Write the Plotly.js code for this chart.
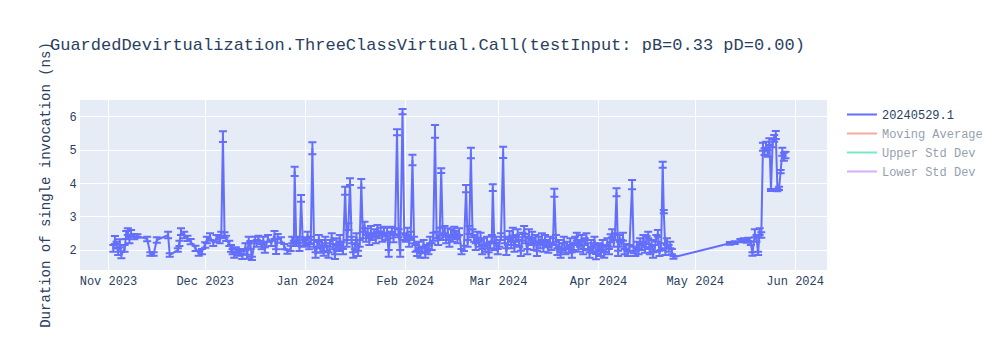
<!DOCTYPE html>
<html>
<head>
<meta charset="utf-8">
<script src="https://cdn.plot.ly/plotly-3.0.1.min.js"></script>
<style>html,body{margin:0;padding:0;background:#fff;}#chart{width:1000px;height:350px;}</style>
</head>
<body>
<div id="chart"></div>
<script>
const chartTitle = "GuardedDevirtualization.ThreeClassVirtual.Call(testInput: pB=0.33 pD=0.00)";
const yTitle = "Duration of single invocation (ns)";
const seriesNames = ["20240529.1", "Moving Average", "Upper Std Dev", "Lower Std Dev"];

const dates = [
"2023-11-02 12:00","2023-11-03 00:00","2023-11-03 12:00","2023-11-04 00:00","2023-11-04 12:00","2023-11-05 00:00","2023-11-06 00:00","2023-11-06 12:00","2023-11-07 00:00","2023-11-07 12:00",
"2023-11-08 00:00","2023-11-09 00:00","2023-11-10 00:00","2023-11-13 00:00","2023-11-14 00:00","2023-11-15 00:00","2023-11-16 00:00","2023-11-19 12:00","2023-11-20 00:00","2023-11-22 12:00",
"2023-11-23 00:00","2023-11-23 12:00","2023-11-24 12:00","2023-11-25 12:00","2023-11-26 12:00","2023-11-28 00:00","2023-11-29 00:00","2023-11-30 00:00",
"2023-12-01 00:00","2023-12-01 12:00","2023-12-02 12:00","2023-12-03 12:00","2023-12-04 12:00","2023-12-05 12:00","2023-12-06 00:00","2023-12-06 12:00","2023-12-07 00:00","2023-12-07 12:00",
"2023-12-08 12:00","2023-12-09 00:00","2023-12-09 12:00","2023-12-10 00:00","2023-12-10 12:00","2023-12-11 12:00","2023-12-12 00:00","2023-12-12 12:00","2023-12-13 12:00","2023-12-14 00:00",
"2023-12-14 12:00","2023-12-15 00:00","2023-12-15 12:00","2023-12-16 12:00","2023-12-17 00:00","2023-12-17 12:00","2023-12-18 12:00","2023-12-19 00:00","2023-12-19 12:00","2023-12-20 12:00",
"2023-12-21 12:00","2023-12-22 12:00","2023-12-23 00:00","2023-12-23 12:00","2023-12-24 12:00","2023-12-25 12:00","2023-12-26 12:00","2023-12-27 12:00","2023-12-28 00:00","2023-12-28 12:00",
"2023-12-28 18:00","2023-12-29 06:00","2023-12-29 18:00","2023-12-30 06:00","2023-12-30 18:00","2023-12-31 06:00","2023-12-31 18:00",
"2024-01-01 06:00","2024-01-01 18:00","2024-01-02 06:00","2024-01-02 18:00","2024-01-03 06:00","2024-01-03 18:00","2024-01-04 06:00","2024-01-04 18:00","2024-01-05 06:00","2024-01-05 18:00",
"2024-01-06 06:00","2024-01-06 18:00","2024-01-07 06:00","2024-01-07 18:00","2024-01-08 06:00","2024-01-08 18:00","2024-01-09 06:00","2024-01-09 18:00","2024-01-10 06:00","2024-01-10 18:00",
"2024-01-11 06:00","2024-01-11 18:00","2024-01-12 06:00","2024-01-12 18:00","2024-01-13 10:00","2024-01-13 22:00","2024-01-14 10:00","2024-01-14 22:00","2024-01-15 10:00","2024-01-15 22:00",
"2024-01-16 10:00","2024-01-16 22:00","2024-01-17 10:00","2024-01-17 22:00","2024-01-18 10:00","2024-01-18 22:00","2024-01-19 10:00","2024-01-19 22:00","2024-01-20 10:00","2024-01-20 22:00",
"2024-01-21 10:00","2024-01-21 22:00","2024-01-22 10:00","2024-01-22 22:00","2024-01-23 10:00","2024-01-23 22:00","2024-01-24 10:00","2024-01-24 22:00","2024-01-25 10:00","2024-01-25 22:00",
"2024-01-26 10:00","2024-01-26 22:00","2024-01-27 10:00","2024-01-27 22:00","2024-01-28 10:00","2024-01-28 22:00","2024-01-29 12:00","2024-01-30 00:00","2024-01-30 12:00","2024-01-31 05:00",
"2024-01-31 18:00",
"2024-02-01 06:00","2024-02-01 18:00","2024-02-02 06:00","2024-02-02 18:00","2024-02-03 07:00","2024-02-03 19:00","2024-02-04 06:00","2024-02-04 18:00","2024-02-05 06:00","2024-02-05 18:00",
"2024-02-06 06:00","2024-02-06 18:00","2024-02-07 06:00","2024-02-07 18:00","2024-02-08 06:00","2024-02-08 18:00","2024-02-09 06:00","2024-02-09 18:00","2024-02-10 07:00","2024-02-10 19:00",
"2024-02-11 06:00","2024-02-11 18:00","2024-02-12 05:00","2024-02-12 17:00","2024-02-13 06:00","2024-02-13 18:00","2024-02-14 06:00","2024-02-14 18:00","2024-02-15 06:00","2024-02-15 18:00",
"2024-02-16 06:00","2024-02-16 18:00","2024-02-17 06:00","2024-02-17 18:00","2024-02-18 12:00","2024-02-19 06:00","2024-02-19 22:00","2024-02-20 10:00","2024-02-20 22:00","2024-02-21 10:00",
"2024-02-21 22:00","2024-02-22 10:00","2024-02-22 22:00","2024-02-23 10:00","2024-02-23 22:00","2024-02-24 10:00","2024-02-24 22:00","2024-02-25 10:00","2024-02-25 22:00","2024-02-26 10:00",
"2024-02-26 22:00","2024-02-27 10:00","2024-02-27 22:00","2024-02-28 05:00","2024-02-28 17:00","2024-02-29 06:00","2024-02-29 18:00",
"2024-03-01 06:00","2024-03-01 18:00","2024-03-02 10:00","2024-03-02 22:00","2024-03-03 10:00","2024-03-03 22:00","2024-03-04 10:00","2024-03-04 22:00","2024-03-05 10:00","2024-03-05 22:00",
"2024-03-06 10:00","2024-03-06 22:00","2024-03-07 10:00","2024-03-07 22:00","2024-03-08 10:00","2024-03-08 22:00","2024-03-09 10:00","2024-03-09 22:00","2024-03-10 10:00","2024-03-10 22:00",
"2024-03-11 10:00","2024-03-11 22:00","2024-03-12 10:00","2024-03-12 22:00","2024-03-13 10:00","2024-03-13 22:00","2024-03-14 10:00","2024-03-14 22:00","2024-03-15 10:00","2024-03-15 22:00",
"2024-03-16 10:00","2024-03-16 22:00","2024-03-17 10:00","2024-03-17 22:00","2024-03-18 07:00","2024-03-18 19:00","2024-03-19 06:00","2024-03-19 18:00","2024-03-20 06:00","2024-03-20 18:00",
"2024-03-21 06:00","2024-03-21 18:00","2024-03-22 06:00","2024-03-22 18:00","2024-03-23 06:00","2024-03-23 18:00","2024-03-24 06:00","2024-03-24 18:00","2024-03-25 06:00","2024-03-25 18:00",
"2024-03-26 06:00","2024-03-26 18:00","2024-03-27 06:00","2024-03-27 18:00","2024-03-28 06:00","2024-03-28 18:00","2024-03-29 06:00","2024-03-29 18:00","2024-03-30 06:00","2024-03-30 18:00",
"2024-03-31 06:00","2024-03-31 18:00",
"2024-04-01 06:00","2024-04-01 18:00","2024-04-02 06:00","2024-04-02 18:00","2024-04-03 06:00","2024-04-03 18:00","2024-04-04 06:00","2024-04-04 18:00","2024-04-05 06:00","2024-04-05 18:00",
"2024-04-06 02:00","2024-04-06 14:00","2024-04-07 02:00","2024-04-07 14:00","2024-04-08 02:00","2024-04-08 14:00","2024-04-09 02:00","2024-04-09 14:00","2024-04-10 02:00","2024-04-10 14:00",
"2024-04-11 10:00","2024-04-11 22:00","2024-04-12 10:00","2024-04-12 22:00","2024-04-13 10:00","2024-04-13 22:00","2024-04-14 10:00","2024-04-14 22:00","2024-04-15 10:00","2024-04-15 22:00",
"2024-04-16 10:00","2024-04-16 22:00","2024-04-17 10:00","2024-04-17 22:00","2024-04-18 10:00","2024-04-18 22:00","2024-04-19 10:00","2024-04-19 22:00","2024-04-20 10:00","2024-04-20 22:00",
"2024-04-21 06:00","2024-04-21 18:00","2024-04-22 06:00","2024-04-22 18:00","2024-04-23 06:00","2024-04-23 18:00","2024-04-24 06:00",
"2024-05-11 18:00","2024-05-13 06:00","2024-05-15 00:00","2024-05-16 00:00","2024-05-17 00:00","2024-05-17 12:00","2024-05-18 06:00","2024-05-18 18:00","2024-05-19 12:00","2024-05-20 00:00",
"2024-05-20 12:00","2024-05-21 00:00","2024-05-21 12:00","2024-05-22 00:00","2024-05-22 12:00","2024-05-23 00:00","2024-05-23 12:00","2024-05-24 00:00","2024-05-24 12:00","2024-05-25 00:00",
"2024-05-25 12:00","2024-05-26 00:00","2024-05-26 12:00","2024-05-27 00:00","2024-05-27 12:00","2024-05-28 00:00","2024-05-28 12:00","2024-05-29 00:00"
];

const durations = [
2.05,2.30,2.15,1.95,2.20,1.85,2.05,2.45,2.55,2.30,
2.50,2.40,2.42,2.33,1.88,1.88,2.30,2.45,1.85,2.00,
2.20,2.55,2.45,2.35,2.25,2.05,1.90,1.95,
2.15,2.30,2.40,2.20,2.35,2.30,2.45,5.40,2.45,2.35,
2.20,2.05,1.95,1.85,2.00,1.90,1.95,1.80,2.10,1.80,
2.30,2.15,1.75,2.30,2.20,2.35,2.10,2.30,2.00,2.35,
2.20,2.45,1.95,2.40,2.30,2.10,1.95,2.05,2.30,2.20,
4.36,2.20,2.30,2.05,3.55,2.30,2.20,
2.25,2.45,2.10,2.30,5.05,2.20,1.85,2.15,2.35,2.00,
2.20,1.90,2.30,2.05,1.85,2.20,2.40,2.10,1.80,2.25,
2.05,2.35,2.15,1.95,3.78,2.20,2.70,4.05,2.30,1.85,
2.10,2.40,1.90,2.20,4.00,2.45,2.75,2.35,2.55,2.25,
2.60,2.40,2.50,2.30,2.65,2.45,2.55,2.35,2.60,2.40,
2.55,1.90,2.45,2.60,2.35,2.55,5.53,2.50,1.90,6.15,
2.40,
2.35,2.55,2.20,2.45,4.70,2.30,2.05,1.90,2.15,1.85,
2.00,2.20,1.85,2.05,1.95,2.30,2.10,2.40,5.56,2.45,
2.25,2.55,4.38,2.40,2.60,2.30,2.55,2.20,2.50,2.35,
2.60,2.45,2.30,2.55,1.95,2.05,3.84,2.20,2.60,4.91,
2.50,2.35,2.10,2.45,2.20,2.40,1.95,2.25,2.05,2.30,
1.85,2.15,2.35,3.87,2.10,2.30,1.95,
2.20,2.40,4.93,2.30,1.95,2.25,2.45,2.15,2.55,2.05,
2.35,2.50,2.20,1.90,2.40,2.60,2.30,1.95,2.50,2.25,
2.45,2.10,2.35,1.90,2.30,2.15,2.40,2.05,2.35,2.20,
2.00,2.30,2.10,2.25,3.72,2.35,1.95,2.20,1.85,2.10,
2.30,1.95,2.15,2.00,2.25,1.85,2.10,2.30,2.40,2.05,
2.20,2.35,1.95,2.25,2.40,2.10,1.85,2.20,2.00,2.30,
1.80,2.05,
2.10,1.90,2.20,1.85,2.05,2.25,1.95,2.35,2.50,2.20,
2.40,3.73,1.90,2.35,2.20,2.40,1.95,2.10,1.90,2.05,
3.96,2.00,1.90,2.15,1.95,2.25,2.10,2.35,2.00,2.30,
2.45,1.95,2.20,1.85,2.05,2.35,2.50,1.90,2.10,4.56,
3.15,1.95,2.25,2.05,2.15,1.95,1.78,
2.20,2.22,2.28,2.30,2.27,2.32,2.20,1.88,2.50,2.35,
1.90,2.55,2.45,5.10,4.95,5.15,4.90,5.25,3.80,5.20,
5.35,5.45,3.80,3.85,4.35,4.95,4.80,4.85
];

const errors = [
0.10,0.12,0.10,0.10,0.12,0.10,0.10,0.12,0.10,0.10,
0.10,0.08,0.05,0.07,0.05,0.05,0.08,0.10,0.05,0.05,
0.08,0.10,0.10,0.08,0.08,0.08,0.07,0.08,
0.08,0.10,0.10,0.08,0.10,0.10,0.10,0.16,0.08,0.08,
0.08,0.10,0.08,0.08,0.08,0.07,0.08,0.07,0.10,0.06,
0.10,0.12,0.05,0.10,0.10,0.08,0.08,0.10,0.08,0.10,
0.08,0.12,0.07,0.08,0.08,0.08,0.06,0.08,0.10,0.08,
0.14,0.08,0.10,0.08,0.10,0.08,0.10,
0.10,0.10,0.08,0.10,0.18,0.10,0.08,0.10,0.10,0.08,
0.10,0.07,0.10,0.08,0.08,0.10,0.10,0.08,0.07,0.10,
0.08,0.10,0.08,0.08,0.12,0.10,0.10,0.10,0.10,0.08,
0.08,0.10,0.08,0.10,0.13,0.10,0.10,0.10,0.10,0.10,
0.12,0.10,0.12,0.10,0.10,0.10,0.12,0.10,0.10,0.10,
0.12,0.10,0.10,0.10,0.12,0.10,0.09,0.12,0.10,0.08,
0.10,
0.10,0.12,0.10,0.10,0.16,0.10,0.10,0.08,0.10,0.08,
0.10,0.10,0.08,0.10,0.08,0.10,0.10,0.12,0.19,0.10,
0.10,0.12,0.07,0.10,0.12,0.10,0.10,0.10,0.12,0.10,
0.10,0.12,0.10,0.10,0.08,0.08,0.11,0.10,0.12,0.16,
0.12,0.10,0.10,0.10,0.10,0.12,0.08,0.10,0.10,0.10,
0.08,0.10,0.10,0.10,0.10,0.10,0.08,
0.10,0.10,0.17,0.10,0.10,0.10,0.12,0.10,0.12,0.10,
0.10,0.12,0.10,0.08,0.12,0.12,0.10,0.08,0.12,0.10,
0.10,0.10,0.10,0.08,0.10,0.10,0.10,0.10,0.10,0.10,
0.08,0.10,0.10,0.10,0.12,0.10,0.10,0.10,0.08,0.10,
0.10,0.08,0.10,0.08,0.10,0.08,0.10,0.10,0.12,0.10,
0.10,0.10,0.08,0.10,0.10,0.10,0.08,0.10,0.08,0.10,
0.08,0.10,
0.10,0.08,0.10,0.08,0.10,0.10,0.08,0.12,0.12,0.10,
0.10,0.12,0.08,0.10,0.10,0.12,0.08,0.08,0.08,0.10,
0.14,0.10,0.08,0.10,0.08,0.10,0.10,0.10,0.08,0.12,
0.10,0.08,0.10,0.08,0.10,0.10,0.10,0.08,0.10,0.09,
0.05,0.10,0.10,0.10,0.10,0.08,0.04,
0.04,0.04,0.05,0.05,0.05,0.05,0.05,0.05,0.12,0.10,
0.05,0.10,0.08,0.12,0.10,0.10,0.10,0.10,0.03,0.12,
0.10,0.12,0.04,0.05,0.05,0.12,0.12,0.10
];

// Hidden (legend-only) statistic series: one representative point each, never drawn
const movingAvgDates = ["2023-11-02 12:00"];
const movingAvgValues = [2.05];
const upperStdDates = ["2023-11-02 12:00"];
const upperStdValues = [2.15];
const lowerStdDates = ["2023-11-02 12:00"];
const lowerStdValues = [1.95];

const xRange = ["2023-10-23 04:00", "2024-06-10 21:00"];
const yRange = [1.4, 6.5];

const fontFamily = '"Courier New", Courier, "Nimbus Mono PS", "Nimbus Mono L", FreeMono, "Liberation Mono", monospace';
const fontColor = '#2a3f5f';

const traces = [
  {
    type: 'scatter', mode: 'lines', name: seriesNames[0],
    x: dates, y: durations,
    line: {color: '#636efa', width: 2},
    error_y: {type: 'data', array: errors, visible: true, color: '#636efa', thickness: 2, width: 4}
  },
  {type: 'scatter', mode: 'lines', name: seriesNames[1], x: movingAvgDates, y: movingAvgValues, visible: 'legendonly', line: {color: '#EF553B', width: 2}},
  {type: 'scatter', mode: 'lines', name: seriesNames[2], x: upperStdDates, y: upperStdValues, visible: 'legendonly', line: {color: '#00cc96', width: 2}},
  {type: 'scatter', mode: 'lines', name: seriesNames[3], x: lowerStdDates, y: lowerStdValues, visible: 'legendonly', line: {color: '#ab63fa', width: 2}}
];

const layout = {
  width: 1000, height: 350,
  font: {family: fontFamily, color: fontColor, size: 12},
  title: {text: chartTitle, x: 0.05, xanchor: 'left', font: {family: fontFamily, size: 17, color: fontColor}},
  paper_bgcolor: '#ffffff',
  plot_bgcolor: '#E5ECF6',
  showlegend: true,
  margin: {l: 80, r: 80, t: 100, b: 80},
  xaxis: {
    type: 'date', range: xRange,
    gridcolor: 'white', linecolor: 'white', zerolinecolor: 'white', ticks: '',
    tickfont: {family: fontFamily, size: 12, color: fontColor}
  },
  yaxis: {
    range: yRange, dtick: 1,
    gridcolor: 'white', linecolor: 'white', zerolinecolor: 'white', ticks: '',
    title: {text: yTitle, standoff: 15, font: {family: fontFamily, size: 14, color: fontColor}},
    tickfont: {family: fontFamily, size: 12, color: fontColor}
  },
  legend: {font: {family: fontFamily, size: 12, color: fontColor}}
};

Plotly.newPlot('chart', traces, layout, {displayModeBar: false});
</script>
</body>
</html>
